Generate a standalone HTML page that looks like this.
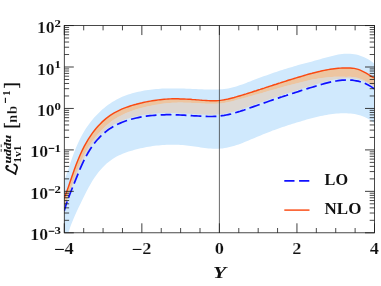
<!DOCTYPE html>
<html><head><meta charset="utf-8"><title>plot</title>
<style>
html,body{margin:0;padding:0;background:#fff;}
svg{display:block;will-change:transform;opacity:0.999}
text{font-family:"Liberation Serif",serif;font-weight:bold;fill:#111}
.tl{font-size:16px;stroke:#fff;stroke-width:0.2px}
.sup{font-size:11.2px}
</style></head><body>
<svg width="381" height="286" viewBox="0 0 381 286">
<rect width="381" height="286" fill="#fff"/>
<defs><clipPath id="c"><rect x="64.3" y="25.55" width="310.2" height="207.25"/></clipPath></defs>
<g clip-path="url(#c)">
<path d="M64.2,181.1L66.2,175.3L68.2,169.4L70.2,163.4L72.2,157.7L74.2,152.3L76.2,147.3L78.2,142.8L80.2,138.6L82.2,134.8L84.2,131.3L86.2,128.1L88.2,125.2L90.2,122.5L92.2,120.0L94.2,117.6L96.2,115.4L98.2,113.4L100.2,111.4L102.2,109.6L104.2,107.9L106.2,106.3L108.2,104.8L110.2,103.4L112.2,102.1L114.2,100.9L116.2,99.8L118.2,98.7L120.2,97.7L122.2,96.8L124.2,96.0L126.2,95.3L128.2,94.6L130.2,93.9L132.2,93.3L134.2,92.8L136.2,92.3L138.2,91.8L140.2,91.4L142.2,91.0L144.2,90.6L146.2,90.3L148.2,90.0L150.2,89.7L152.2,89.5L154.2,89.2L156.2,89.0L158.2,88.9L160.2,88.7L162.2,88.6L164.2,88.5L166.2,88.4L168.2,88.4L170.2,88.4L172.2,88.4L174.2,88.4L176.2,88.4L178.2,88.4L180.2,88.5L182.2,88.5L184.2,88.6L186.2,88.7L188.2,88.8L190.2,88.8L192.2,88.9L194.2,89.0L196.2,89.1L198.2,89.2L200.2,89.3L202.2,89.3L204.2,89.4L206.2,89.5L208.2,89.5L210.2,89.5L212.2,89.6L214.2,89.5L216.2,89.5L218.2,89.4L220.2,89.3L222.2,89.2L224.2,89.0L226.2,88.7L228.2,88.4L230.2,88.0L232.2,87.5L234.2,87.0L236.2,86.4L238.2,85.8L240.2,85.1L242.2,84.4L244.2,83.7L246.2,82.9L248.2,82.1L250.2,81.4L252.2,80.6L254.2,79.8L256.2,79.1L258.2,78.3L260.2,77.6L262.2,76.8L264.2,76.1L266.2,75.4L268.2,74.7L270.2,74.0L272.2,73.3L274.2,72.6L276.2,71.9L278.2,71.3L280.2,70.6L282.2,70.0L284.2,69.3L286.2,68.7L288.2,68.1L290.2,67.5L292.2,66.9L294.2,66.3L296.2,65.7L298.2,65.1L300.2,64.6L302.2,64.0L304.2,63.5L306.2,63.0L308.2,62.4L310.2,61.9L312.2,61.4L314.2,60.8L316.2,60.3L318.2,59.8L320.2,59.2L322.2,58.6L324.2,58.1L326.2,57.5L328.2,57.0L330.2,56.4L332.2,55.9L334.2,55.4L336.2,55.0L338.2,54.6L340.2,54.3L342.2,54.0L344.2,53.8L346.2,53.7L348.2,53.7L350.2,53.8L352.2,54.0L354.2,54.2L356.2,54.6L358.2,55.1L360.2,55.7L362.2,56.4L364.2,57.2L366.2,58.2L368.2,59.3L370.2,60.5L372.2,61.9L374.2,63.5L374.6,63.9L374.6,123.4L372.6,121.7L370.6,120.3L368.6,119.0L366.6,117.9L364.6,117.0L362.6,116.2L360.6,115.5L358.6,114.9L356.6,114.4L354.6,114.0L352.6,113.7L350.6,113.5L348.6,113.4L346.6,113.3L344.6,113.2L342.6,113.2L340.6,113.3L338.6,113.4L336.6,113.6L334.6,113.8L332.6,114.0L330.6,114.3L328.6,114.6L326.6,114.9L324.6,115.3L322.6,115.7L320.6,116.1L318.6,116.6L316.6,117.0L314.6,117.5L312.6,118.0L310.6,118.6L308.6,119.1L306.6,119.6L304.6,120.2L302.6,120.8L300.6,121.4L298.6,121.9L296.6,122.5L294.6,123.2L292.6,123.8L290.6,124.4L288.6,125.0L286.6,125.7L284.6,126.4L282.6,127.0L280.6,127.7L278.6,128.4L276.6,129.2L274.6,129.9L272.6,130.6L270.6,131.4L268.6,132.2L266.6,132.9L264.6,133.7L262.6,134.6L260.6,135.4L258.6,136.2L256.6,137.1L254.6,137.9L252.6,138.8L250.6,139.6L248.6,140.5L246.6,141.3L244.6,142.1L242.6,142.9L240.6,143.7L238.6,144.4L236.6,145.1L234.6,145.7L232.6,146.3L230.6,146.8L228.6,147.3L226.6,147.7L224.6,148.1L222.6,148.4L220.6,148.6L218.6,148.7L216.6,148.8L214.6,148.8L212.6,148.7L210.6,148.6L208.6,148.4L206.6,148.2L204.6,148.0L202.6,147.7L200.6,147.4L198.6,147.1L196.6,146.8L194.6,146.5L192.6,146.3L190.6,146.0L188.6,145.7L186.6,145.5L184.6,145.3L182.6,145.1L180.6,145.0L178.6,144.8L176.6,144.8L174.6,144.7L172.6,144.7L170.6,144.7L168.6,144.7L166.6,144.8L164.6,144.9L162.6,145.0L160.6,145.2L158.6,145.4L156.6,145.6L154.6,145.8L152.6,146.1L150.6,146.4L148.6,146.7L146.6,147.1L144.6,147.5L142.6,147.9L140.6,148.3L138.6,148.8L136.6,149.3L134.6,149.8L132.6,150.4L130.6,151.0L128.6,151.6L126.6,152.3L124.6,153.0L122.6,153.8L120.6,154.7L118.6,155.6L116.6,156.6L114.6,157.8L112.6,159.0L110.6,160.4L108.6,161.9L106.6,163.6L104.6,165.5L102.6,167.5L100.6,169.7L98.6,172.1L96.6,174.8L94.6,177.6L92.6,180.6L90.6,183.9L88.6,187.5L86.6,191.3L84.6,195.2L82.6,199.3L80.6,203.4L78.6,207.5L76.6,211.8L74.6,216.2L72.6,220.9L70.6,226.1L68.6,232.2L64.3,232.8Z" fill="#d0e9fd"/>
<path d="M64.2,207.6L66.2,202.0L68.2,196.0L70.2,190.0L72.2,184.1L74.2,178.3L76.2,172.9L78.2,167.7L80.2,163.0L82.2,158.6L84.2,154.6L86.2,150.9L88.2,147.4L90.2,144.3L92.2,141.4L94.2,138.7L96.2,136.1L98.2,133.7L100.2,131.5L102.2,129.4L104.2,127.4L106.2,125.6L108.2,123.9L110.2,122.3L112.2,120.8L114.2,119.5L116.2,118.2L118.2,117.0L120.2,115.9L122.2,114.9L124.2,114.0L126.2,113.1L128.2,112.2L130.2,111.4L132.2,110.7L134.2,110.0L136.2,109.3L138.2,108.7L140.2,108.2L142.2,107.7L144.2,107.2L146.2,106.7L148.2,106.3L150.2,105.9L152.2,105.5L154.2,105.1L156.2,104.7L158.2,104.4L160.2,104.1L162.2,103.8L164.2,103.6L166.2,103.3L168.2,103.1L170.2,103.0L172.2,102.8L174.2,102.7L176.2,102.7L178.2,102.6L180.2,102.6L182.2,102.6L184.2,102.7L186.2,102.7L188.2,102.8L190.2,102.8L192.2,102.9L194.2,103.0L196.2,103.1L198.2,103.2L200.2,103.3L202.2,103.4L204.2,103.6L206.2,103.7L208.2,103.8L210.2,103.8L212.2,103.8L214.2,103.8L216.2,103.7L218.2,103.6L220.2,103.4L222.2,103.2L224.2,102.9L226.2,102.5L228.2,102.1L230.2,101.7L232.2,101.2L234.2,100.7L236.2,100.1L238.2,99.6L240.2,99.0L242.2,98.4L244.2,97.9L246.2,97.4L248.2,96.8L250.2,96.2L252.2,95.7L254.2,95.1L256.2,94.6L258.2,94.0L260.2,93.4L262.2,92.9L264.2,92.3L266.2,91.7L268.2,91.1L270.2,90.6L272.2,90.0L274.2,89.4L276.2,88.9L278.2,88.3L280.2,87.7L282.2,87.2L284.2,86.6L286.2,86.1L288.2,85.5L290.2,85.0L292.2,84.4L294.2,83.9L296.2,83.4L298.2,82.9L300.2,82.4L302.2,81.9L304.2,81.4L306.2,80.9L308.2,80.5L310.2,80.0L312.2,79.6L314.2,79.2L316.2,78.9L318.2,78.5L320.2,78.2L322.2,78.0L324.2,77.7L326.2,77.5L328.2,77.3L330.2,77.1L332.2,76.9L334.2,76.8L336.2,76.7L338.2,76.7L340.2,76.7L342.2,76.7L344.2,76.8L346.2,76.9L348.2,76.8L350.2,76.8L352.2,77.0L354.2,77.2L356.2,77.5L358.2,78.0L360.2,78.7L362.2,79.4L364.2,80.3L366.2,81.4L368.2,82.5L370.2,83.7L372.2,84.8L374.2,85.9L374.6,86.1L374.6,87.4L374.2,87.1L372.2,85.7L370.2,84.4L368.2,83.2L366.2,82.3L364.2,81.4L362.2,80.7L360.2,80.0L358.2,79.5L356.2,79.1L354.2,78.8L352.2,78.5L350.2,78.4L348.2,78.3L346.2,78.3L344.2,78.4L342.2,78.5L340.2,78.7L338.2,79.0L336.2,79.3L334.2,79.6L332.2,80.0L330.2,80.4L328.2,80.9L326.2,81.4L324.2,81.9L322.2,82.5L320.2,83.1L318.2,83.7L316.2,84.3L314.2,84.9L312.2,85.5L310.2,86.1L308.2,86.7L306.2,87.4L304.2,88.0L302.2,88.6L300.2,89.2L298.2,89.9L296.2,90.5L294.2,91.2L292.2,91.8L290.2,92.4L288.2,93.1L286.2,93.8L284.2,94.4L282.2,95.1L280.2,95.7L278.2,96.4L276.2,97.1L274.2,97.7L272.2,98.4L270.2,99.1L268.2,99.8L266.2,100.5L264.2,101.2L262.2,101.9L260.2,102.6L258.2,103.3L256.2,104.0L254.2,104.7L252.2,105.4L250.2,106.1L248.2,106.9L246.2,107.6L244.2,108.3L242.2,108.9L240.2,109.6L238.2,110.2L236.2,110.8L234.2,111.4L232.2,112.0L230.2,112.5L228.2,112.9L226.2,113.3L224.2,113.7L222.2,114.0L220.2,114.3L218.2,114.5L216.2,114.6L214.2,114.7L212.2,114.8L210.2,114.8L208.2,114.8L206.2,114.7L204.2,114.6L202.2,114.6L200.2,114.4L198.2,114.3L196.2,114.2L194.2,114.1L192.2,114.0L190.2,113.8L188.2,113.7L186.2,113.6L184.2,113.5L182.2,113.4L180.2,113.3L178.2,113.2L176.2,113.2L174.2,113.1L172.2,113.1L170.2,113.0L168.2,113.0L166.2,113.0L164.2,113.1L162.2,113.1L160.2,113.2L158.2,113.3L156.2,113.4L154.2,113.6L152.2,113.8L150.2,114.0L148.2,114.2L146.2,114.5L144.2,114.8L142.2,115.1L140.2,115.5L138.2,115.9L136.2,116.3L134.2,116.8L132.2,117.3L130.2,117.8L128.2,118.4L126.2,119.1L124.2,119.8L122.2,120.6L120.2,121.4L118.2,122.3L116.2,123.3L114.2,124.3L112.2,125.5L110.2,126.7L108.2,128.1L106.2,129.6L104.2,131.3L102.2,133.0L100.2,135.0L98.2,137.1L96.2,139.3L94.2,141.8L92.2,144.6L90.2,147.5L88.2,150.8L86.2,154.4L84.2,158.3L82.2,162.5L80.2,167.0L78.2,171.8L76.2,176.7L74.2,181.7L72.2,186.6L70.2,191.6L68.2,196.9L66.2,202.6L64.2,209.2Z" fill="#ddd7d1"/>
<path d="M64.2,198.6L66.2,193.1L68.2,187.4L70.2,181.5L72.2,175.7L74.2,170.0L76.2,164.5L78.2,159.5L80.2,154.8L82.2,150.4L84.2,146.4L86.2,142.8L88.2,139.4L90.2,136.3L92.2,133.4L94.2,130.8L96.2,128.3L98.2,126.0L100.2,123.9L102.2,121.9L104.2,120.1L106.2,118.4L108.2,116.9L110.2,115.4L112.2,114.1L114.2,112.9L116.2,111.8L118.2,110.8L120.2,109.8L122.2,108.9L124.2,108.1L126.2,107.4L128.2,106.7L130.2,106.0L132.2,105.4L134.2,104.8L136.2,104.3L138.2,103.7L140.2,103.2L142.2,102.8L144.2,102.3L146.2,101.9L148.2,101.5L150.2,101.1L152.2,100.8L154.2,100.5L156.2,100.2L158.2,99.9L160.2,99.7L162.2,99.5L164.2,99.3L166.2,99.1L168.2,99.0L170.2,98.9L172.2,98.8L174.2,98.8L176.2,98.8L178.2,98.8L180.2,98.9L182.2,98.9L184.2,99.0L186.2,99.1L188.2,99.2L190.2,99.3L192.2,99.5L194.2,99.6L196.2,99.8L198.2,99.9L200.2,100.1L202.2,100.3L204.2,100.4L206.2,100.5L208.2,100.6L210.2,100.7L212.2,100.7L214.2,100.7L216.2,100.7L218.2,100.6L220.2,100.4L222.2,100.1L224.2,99.8L226.2,99.4L228.2,99.0L230.2,98.5L232.2,98.0L234.2,97.5L236.2,96.9L238.2,96.3L240.2,95.7L242.2,95.1L244.2,94.5L246.2,93.9L248.2,93.2L250.2,92.6L252.2,92.0L254.2,91.3L256.2,90.7L258.2,90.0L260.2,89.4L262.2,88.7L264.2,88.1L266.2,87.4L268.2,86.8L270.2,86.1L272.2,85.5L274.2,84.8L276.2,84.2L278.2,83.5L280.2,82.9L282.2,82.2L284.2,81.6L286.2,81.0L288.2,80.3L290.2,79.7L292.2,79.1L294.2,78.5L296.2,77.9L298.2,77.3L300.2,76.7L302.2,76.1L304.2,75.5L306.2,74.9L308.2,74.3L310.2,73.8L312.2,73.3L314.2,72.7L316.2,72.2L318.2,71.7L320.2,71.3L322.2,70.8L324.2,70.4L326.2,70.0L328.2,69.6L330.2,69.3L332.2,69.0L334.2,68.7L336.2,68.5L338.2,68.3L340.2,68.1L342.2,68.0L344.2,67.9L346.2,67.9L348.2,67.9L350.2,68.0L352.2,68.2L354.2,68.4L356.2,68.9L358.2,69.4L360.2,70.2L362.2,71.1L364.2,72.1L366.2,73.2L368.2,74.4L370.2,75.6L372.2,76.8L374.2,77.9L374.6,78.1L374.6,86.1L374.2,85.9L372.2,84.8L370.2,83.7L368.2,82.5L366.2,81.4L364.2,80.3L362.2,79.4L360.2,78.7L358.2,78.0L356.2,77.5L354.2,77.2L352.2,77.0L350.2,76.8L348.2,76.8L346.2,76.9L344.2,76.8L342.2,76.7L340.2,76.7L338.2,76.7L336.2,76.7L334.2,76.8L332.2,76.9L330.2,77.1L328.2,77.3L326.2,77.5L324.2,77.7L322.2,78.0L320.2,78.2L318.2,78.5L316.2,78.9L314.2,79.2L312.2,79.6L310.2,80.0L308.2,80.5L306.2,80.9L304.2,81.4L302.2,81.9L300.2,82.4L298.2,82.9L296.2,83.4L294.2,83.9L292.2,84.4L290.2,85.0L288.2,85.5L286.2,86.1L284.2,86.6L282.2,87.2L280.2,87.7L278.2,88.3L276.2,88.9L274.2,89.4L272.2,90.0L270.2,90.6L268.2,91.1L266.2,91.7L264.2,92.3L262.2,92.9L260.2,93.4L258.2,94.0L256.2,94.6L254.2,95.1L252.2,95.7L250.2,96.2L248.2,96.8L246.2,97.4L244.2,97.9L242.2,98.4L240.2,99.0L238.2,99.6L236.2,100.1L234.2,100.7L232.2,101.2L230.2,101.7L228.2,102.1L226.2,102.5L224.2,102.9L222.2,103.2L220.2,103.4L218.2,103.6L216.2,103.7L214.2,103.8L212.2,103.8L210.2,103.8L208.2,103.8L206.2,103.7L204.2,103.6L202.2,103.4L200.2,103.3L198.2,103.2L196.2,103.1L194.2,103.0L192.2,102.9L190.2,102.8L188.2,102.8L186.2,102.7L184.2,102.7L182.2,102.6L180.2,102.6L178.2,102.6L176.2,102.7L174.2,102.7L172.2,102.8L170.2,103.0L168.2,103.1L166.2,103.3L164.2,103.6L162.2,103.8L160.2,104.1L158.2,104.4L156.2,104.7L154.2,105.1L152.2,105.5L150.2,105.9L148.2,106.3L146.2,106.7L144.2,107.2L142.2,107.7L140.2,108.2L138.2,108.7L136.2,109.3L134.2,110.0L132.2,110.7L130.2,111.4L128.2,112.2L126.2,113.1L124.2,114.0L122.2,114.9L120.2,115.9L118.2,117.0L116.2,118.2L114.2,119.5L112.2,120.8L110.2,122.3L108.2,123.9L106.2,125.6L104.2,127.4L102.2,129.4L100.2,131.5L98.2,133.7L96.2,136.1L94.2,138.7L92.2,141.4L90.2,144.3L88.2,147.4L86.2,150.9L84.2,154.6L82.2,158.6L80.2,163.0L78.2,167.7L76.2,172.9L74.2,178.3L72.2,184.1L70.2,190.0L68.2,196.0L66.2,202.0L64.2,207.6Z" fill="#edc5a0"/>
<g transform="scale(1,1.0)">
<path d="M64.2,210.9L66.2,204.3L68.2,198.6L70.2,193.3L72.2,188.3L74.2,183.4L76.2,178.4L78.2,173.5L80.2,168.7L82.2,164.2L84.2,160.0L86.2,156.1L88.2,152.5L90.2,149.2L92.2,146.3L94.2,143.5L96.2,141.0L98.2,138.8L100.2,136.7L102.2,134.7L104.2,133.0L106.2,131.3L108.2,129.8L110.2,128.4L112.2,127.2L114.2,126.0L116.2,125.0L118.2,124.0L120.2,123.1L122.2,122.3L124.2,121.5L126.2,120.8L128.2,120.1L130.2,119.5L132.2,119.0L134.2,118.5L136.2,118.0L138.2,117.6L140.2,117.2L142.2,116.8L144.2,116.5L146.2,116.2L148.2,115.9L150.2,115.7L152.2,115.5L154.2,115.3L156.2,115.1L158.2,115.0L160.2,114.9L162.2,114.8L164.2,114.8L166.2,114.7L168.2,114.7L170.2,114.7L172.2,114.8L174.2,114.8L176.2,114.9L178.2,114.9L180.2,115.0L182.2,115.1L184.2,115.2L186.2,115.3L188.2,115.4L190.2,115.5L192.2,115.7L194.2,115.8L196.2,115.9L198.2,116.0L200.2,116.1L202.2,116.3L204.2,116.3L206.2,116.4L208.2,116.5L210.2,116.5L212.2,116.5L214.2,116.4L216.2,116.3L218.2,116.2L220.2,116.0L222.2,115.7L224.2,115.4L226.2,115.0L228.2,114.6L230.2,114.2L232.2,113.7L234.2,113.1L236.2,112.5L238.2,111.9L240.2,111.3L242.2,110.6L244.2,110.0L246.2,109.3L248.2,108.6L250.2,107.8L252.2,107.1L254.2,106.4L256.2,105.7L258.2,105.0L260.2,104.3L262.2,103.6L264.2,102.9L266.2,102.2L268.2,101.5L270.2,100.8L272.2,100.1L274.2,99.4L276.2,98.8L278.2,98.1L280.2,97.4L282.2,96.8L284.2,96.1L286.2,95.5L288.2,94.8L290.2,94.1L292.2,93.5L294.2,92.9L296.2,92.2L298.2,91.6L300.2,90.9L302.2,90.3L304.2,89.7L306.2,89.1L308.2,88.4L310.2,87.8L312.2,87.2L314.2,86.6L316.2,86.0L318.2,85.4L320.2,84.8L322.2,84.2L324.2,83.6L326.2,83.1L328.2,82.6L330.2,82.1L332.2,81.7L334.2,81.3L336.2,81.0L338.2,80.7L340.2,80.4L342.2,80.2L344.2,80.1L346.2,80.0L348.2,80.0L350.2,80.1L352.2,80.2L354.2,80.5L356.2,80.8L358.2,81.2L360.2,81.7L362.2,82.4L364.2,83.1L366.2,84.0L368.2,84.9L370.2,86.1L372.2,87.4L374.2,88.8L374.6,89.1" fill="none" stroke="#1010ff" stroke-width="1.7" stroke-dasharray="10.8 4.2" stroke-dashoffset="1.0"/>
<path d="M64.2,198.6L66.2,193.1L68.2,187.4L70.2,181.5L72.2,175.7L74.2,170.0L76.2,164.5L78.2,159.5L80.2,154.8L82.2,150.4L84.2,146.4L86.2,142.8L88.2,139.4L90.2,136.3L92.2,133.4L94.2,130.8L96.2,128.3L98.2,126.0L100.2,123.9L102.2,121.9L104.2,120.1L106.2,118.4L108.2,116.9L110.2,115.4L112.2,114.1L114.2,112.9L116.2,111.8L118.2,110.8L120.2,109.8L122.2,108.9L124.2,108.1L126.2,107.4L128.2,106.7L130.2,106.0L132.2,105.4L134.2,104.8L136.2,104.3L138.2,103.7L140.2,103.2L142.2,102.8L144.2,102.3L146.2,101.9L148.2,101.5L150.2,101.1L152.2,100.8L154.2,100.5L156.2,100.2L158.2,99.9L160.2,99.7L162.2,99.5L164.2,99.3L166.2,99.1L168.2,99.0L170.2,98.9L172.2,98.8L174.2,98.8L176.2,98.8L178.2,98.8L180.2,98.9L182.2,98.9L184.2,99.0L186.2,99.1L188.2,99.2L190.2,99.3L192.2,99.5L194.2,99.6L196.2,99.8L198.2,99.9L200.2,100.1L202.2,100.3L204.2,100.4L206.2,100.5L208.2,100.6L210.2,100.7L212.2,100.7L214.2,100.7L216.2,100.7L218.2,100.6L220.2,100.4L222.2,100.1L224.2,99.8L226.2,99.4L228.2,99.0L230.2,98.5L232.2,98.0L234.2,97.5L236.2,96.9L238.2,96.3L240.2,95.7L242.2,95.1L244.2,94.5L246.2,93.9L248.2,93.2L250.2,92.6L252.2,92.0L254.2,91.3L256.2,90.7L258.2,90.0L260.2,89.4L262.2,88.7L264.2,88.1L266.2,87.4L268.2,86.8L270.2,86.1L272.2,85.5L274.2,84.8L276.2,84.2L278.2,83.5L280.2,82.9L282.2,82.2L284.2,81.6L286.2,81.0L288.2,80.3L290.2,79.7L292.2,79.1L294.2,78.5L296.2,77.9L298.2,77.3L300.2,76.7L302.2,76.1L304.2,75.5L306.2,74.9L308.2,74.3L310.2,73.8L312.2,73.3L314.2,72.7L316.2,72.2L318.2,71.7L320.2,71.3L322.2,70.8L324.2,70.4L326.2,70.0L328.2,69.6L330.2,69.3L332.2,69.0L334.2,68.7L336.2,68.5L338.2,68.3L340.2,68.1L342.2,68.0L344.2,67.9L346.2,67.9L348.2,67.9L350.2,68.0L352.2,68.2L354.2,68.4L356.2,68.9L358.2,69.4L360.2,70.2L362.2,71.1L364.2,72.1L366.2,73.2L368.2,74.4L370.2,75.6L372.2,76.8L374.2,77.9L374.6,78.1" fill="none" stroke="#fa4a12" stroke-width="1.45"/>
</g>
</g>
<g transform="scale(1,1.0)">
<path d="M64.30,232.800h9.50M374.50,232.800h-9.50M64.30,191.350h9.50M374.50,191.350h-9.50M64.30,149.900h9.50M374.50,149.900h-9.50M64.30,108.450h9.50M374.50,108.450h-9.50M64.30,67.000h9.50M374.50,67.000h-9.50M64.30,25.550h9.50M374.50,25.550h-9.50M64.30,25.550v9.500M64.30,232.800v-9.500M141.85,25.550v9.500M141.85,232.800v-9.500M219.40,25.550v9.500M219.40,232.800v-9.500M296.95,25.550v9.500M296.95,232.800v-9.500M374.50,25.550v9.500M374.50,232.800v-9.500" stroke="#1c1c1c" stroke-width="0.85" fill="none"/>
<path d="M64.30,220.322h4.80M374.50,220.322h-4.80M64.30,213.023h4.80M374.50,213.023h-4.80M64.30,207.845h4.80M374.50,207.845h-4.80M64.30,203.828h4.80M374.50,203.828h-4.80M64.30,200.546h4.80M374.50,200.546h-4.80M64.30,197.771h4.80M374.50,197.771h-4.80M64.30,195.367h4.80M374.50,195.367h-4.80M64.30,193.247h4.80M374.50,193.247h-4.80M64.30,178.872h4.80M374.50,178.872h-4.80M64.30,171.573h4.80M374.50,171.573h-4.80M64.30,166.395h4.80M374.50,166.395h-4.80M64.30,162.378h4.80M374.50,162.378h-4.80M64.30,159.096h4.80M374.50,159.096h-4.80M64.30,156.321h4.80M374.50,156.321h-4.80M64.30,153.917h4.80M374.50,153.917h-4.80M64.30,151.797h4.80M374.50,151.797h-4.80M64.30,137.422h4.80M374.50,137.422h-4.80M64.30,130.123h4.80M374.50,130.123h-4.80M64.30,124.945h4.80M374.50,124.945h-4.80M64.30,120.928h4.80M374.50,120.928h-4.80M64.30,117.646h4.80M374.50,117.646h-4.80M64.30,114.871h4.80M374.50,114.871h-4.80M64.30,112.467h4.80M374.50,112.467h-4.80M64.30,110.347h4.80M374.50,110.347h-4.80M64.30,95.972h4.80M374.50,95.972h-4.80M64.30,88.673h4.80M374.50,88.673h-4.80M64.30,83.495h4.80M374.50,83.495h-4.80M64.30,79.478h4.80M374.50,79.478h-4.80M64.30,76.196h4.80M374.50,76.196h-4.80M64.30,73.421h4.80M374.50,73.421h-4.80M64.30,71.017h4.80M374.50,71.017h-4.80M64.30,68.897h4.80M374.50,68.897h-4.80M64.30,54.522h4.80M374.50,54.522h-4.80M64.30,47.223h4.80M374.50,47.223h-4.80M64.30,42.045h4.80M374.50,42.045h-4.80M64.30,38.028h4.80M374.50,38.028h-4.80M64.30,34.746h4.80M374.50,34.746h-4.80M64.30,31.971h4.80M374.50,31.971h-4.80M64.30,29.567h4.80M374.50,29.567h-4.80M64.30,27.447h4.80M374.50,27.447h-4.80M83.69,25.550v4.800M83.69,232.800v-4.800M103.07,25.550v4.800M103.07,232.800v-4.800M122.46,25.550v4.800M122.46,232.800v-4.800M161.24,25.550v4.800M161.24,232.800v-4.800M180.62,25.550v4.800M180.62,232.800v-4.800M200.01,25.550v4.800M200.01,232.800v-4.800M238.79,25.550v4.800M238.79,232.800v-4.800M258.18,25.550v4.800M258.18,232.800v-4.800M277.56,25.550v4.800M277.56,232.800v-4.800M316.34,25.550v4.800M316.34,232.800v-4.800M335.73,25.550v4.800M335.73,232.800v-4.800M355.11,25.550v4.800M355.11,232.800v-4.800" stroke="#1c1c1c" stroke-width="0.8" fill="none"/>
<line x1="219.4" y1="25.55" x2="219.4" y2="232.8" stroke="#2a2a2a" stroke-width="0.7"/>
<rect x="64.3" y="25.55" width="310.2" height="207.25" fill="none" stroke="#1c1c1c" stroke-width="0.8"/>
<line x1="284.3" y1="180.9" x2="309.5" y2="180.9" stroke="#1010ff" stroke-width="1.7" stroke-dasharray="10.2 4.6"/>
<line x1="284.3" y1="210.1" x2="309.5" y2="210.1" stroke="#fa4a12" stroke-width="1.45"/>
</g>
<text x="30.3" y="240.3" class="tl" textLength="17.8" lengthAdjust="spacingAndGlyphs">10</text><path d="M48.7,231.3h5.6" stroke="#111" stroke-width="1.1" fill="none"/><text x="54.6" y="234.4" class="sup" textLength="6.4" lengthAdjust="spacingAndGlyphs">3</text><text x="30.3" y="198.9" class="tl" textLength="17.8" lengthAdjust="spacingAndGlyphs">10</text><path d="M48.7,189.9h5.6" stroke="#111" stroke-width="1.1" fill="none"/><text x="54.6" y="193.0" class="sup" textLength="6.4" lengthAdjust="spacingAndGlyphs">2</text><text x="30.3" y="157.4" class="tl" textLength="17.8" lengthAdjust="spacingAndGlyphs">10</text><path d="M48.7,148.4h5.6" stroke="#111" stroke-width="1.1" fill="none"/><text x="54.6" y="151.5" class="sup" textLength="6.4" lengthAdjust="spacingAndGlyphs">1</text><text x="36.9" y="116.0" class="tl" textLength="17.8" lengthAdjust="spacingAndGlyphs">10</text><text x="54.6" y="109.8" class="sup" textLength="6.4" lengthAdjust="spacingAndGlyphs">0</text><text x="36.9" y="74.5" class="tl" textLength="17.8" lengthAdjust="spacingAndGlyphs">10</text><text x="54.6" y="68.3" class="sup" textLength="6.4" lengthAdjust="spacingAndGlyphs">1</text><text x="36.9" y="33.0" class="tl" textLength="17.8" lengthAdjust="spacingAndGlyphs">10</text><text x="54.6" y="26.9" class="sup" textLength="6.4" lengthAdjust="spacingAndGlyphs">2</text>
<path d="M55.1,249.45h8.8" stroke="#111" stroke-width="1.1" fill="none"/><text x="64.6" y="253.8" class="tl" textLength="9.2" lengthAdjust="spacingAndGlyphs">4</text><path d="M132.7,249.45h8.8" stroke="#111" stroke-width="1.1" fill="none"/><text x="142.2" y="253.8" class="tl" textLength="9.2" lengthAdjust="spacingAndGlyphs">2</text><text x="214.7" y="253.8" class="tl" textLength="9.2" lengthAdjust="spacingAndGlyphs">0</text><text x="292.2" y="253.8" class="tl" textLength="9.2" lengthAdjust="spacingAndGlyphs">2</text><text x="369.8" y="253.8" class="tl" textLength="9.2" lengthAdjust="spacingAndGlyphs">4</text>
<text x="212.9" y="278.4" style="font-size:16.5px;font-style:italic" textLength="13.2" lengthAdjust="spacingAndGlyphs">Y</text>
<text x="324.6" y="185.2" style="font-size:17px" textLength="23.5" lengthAdjust="spacingAndGlyphs">LO</text>
<text x="324.6" y="214.1" style="font-size:17px" textLength="36.8" lengthAdjust="spacingAndGlyphs">NLO</text>
<g transform="translate(16.8,127.3) rotate(-90)">
<text x="-1.4" y="0.6" style="font-size:19px;font-weight:normal" stroke="#111" stroke-width="0.3">[</text>
<text x="4.4" y="0" style="font-size:14.8px" stroke="#fff" stroke-width="0.25">n</text>
<text x="13.4" y="0" style="font-size:14.8px" stroke="#fff" stroke-width="0.25">b</text>
<path d="M24.2,-11.4h5.4" stroke="#111" stroke-width="1.1" fill="none"/>
<text x="31.5" y="-7.1" style="font-size:10.8px">1</text>
<text x="38.7" y="0.6" style="font-size:19px;font-weight:normal" stroke="#111" stroke-width="0.3">]</text>
</g>
<g transform="translate(17.3,174.2) rotate(-90)">
<path d="M8.3,-9.7C8.3,-11.4 6.0,-11.7 4.9,-10.3C3.6,-8.6 2.8,-4.8 0.0,-1.8C2.5,-2.3 4.5,0.1 7,-0.2C8.4,-0.5 9.4,-1.6 9.8,-3.0" fill="none" stroke="#111" stroke-width="1.75" stroke-linecap="round" stroke-linejoin="round"/><circle cx="8.0" cy="-10.0" r="1.25" fill="#111"/>
<text x="10.8" y="-6.4" style="font-size:11.4px;font-style:italic" stroke="#111" stroke-width="0.15" textLength="28.5" lengthAdjust="spacingAndGlyphs">uddu</text>
<path d="M22.4,-16.1h2.8M27.0,-16.1h2.8" stroke="#111" stroke-width="0.8" fill="none"/>
<text x="11.4" y="3.7" style="font-size:10px" textLength="17.2" lengthAdjust="spacingAndGlyphs">1v1</text>
</g>
</svg>
</body></html>
